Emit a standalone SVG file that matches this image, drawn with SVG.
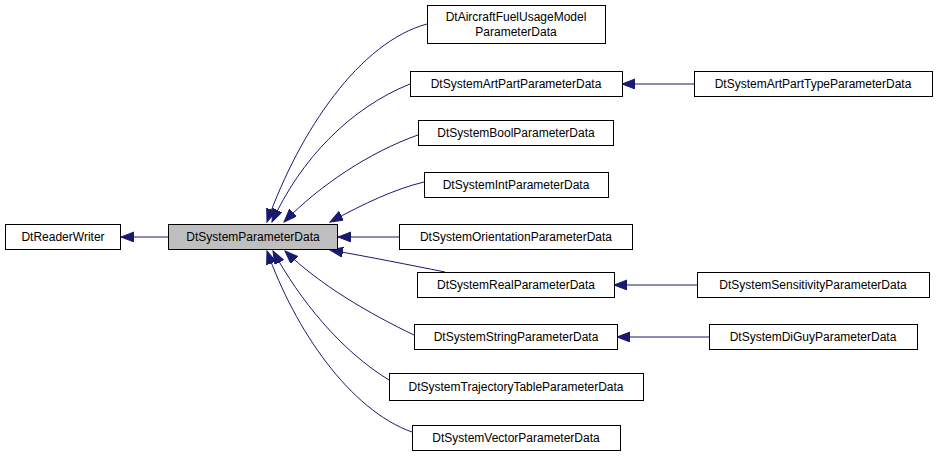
<svg xmlns="http://www.w3.org/2000/svg" width="939" height="457" viewBox="0 0 939 457">
<style>
.n rect{fill:#fff;stroke:#000;stroke-width:1}
.n text{font-family:"Liberation Sans",Arial,sans-serif;font-size:12px;text-anchor:middle;fill:#000}
#edges path{fill:none;stroke:#191970;stroke-width:1;marker-end:url(#a)}
</style>
<defs><marker id="a" markerUnits="userSpaceOnUse" markerWidth="14" markerHeight="12" refX="13" refY="5" orient="auto"><polygon points="0,0 13,5 0,10" fill="#191970" stroke="#191970"/></marker></defs>
<rect width="939" height="457" fill="#fff"/>
<g id="edges">
<path d="M168,237 L121,237"/>
<path d="M427,24 C360,42 300,130 267,222"/>
<path d="M410,84 C350,108 300,160 272,222"/>
<path d="M418,135 C370,152 320,185 284,222"/>
<path d="M424,182 C395,189 365,203 330,222"/>
<path d="M399,237 L338,237"/>
<path d="M445,272 C410,265 370,257 330,250"/>
<path d="M414,335 C370,314 320,285 285,251"/>
<path d="M389,380 C340,350 300,300 273,251"/>
<path d="M412,432 C350,410 295,330 267,251"/>
<path d="M694,84 L622,84"/>
<path d="M697,285 L614,285"/>
<path d="M709,337 L617,337"/>
</g>
<g id="DtReaderWriter" class="n"><rect x="5.5" y="224.5" width="115" height="25"/><text x="63" y="241">DtReaderWriter</text></g>
<g id="DtSystemParameterData" class="n"><rect x="168.5" y="224.5" width="169" height="25" style="fill:#bfbfbf"/><text x="253" y="241">DtSystemParameterData</text></g>
<g id="DtAircraftFuelUsageModelParameterData" class="n"><rect x="427.5" y="5.5" width="178" height="38"/><text x="516" y="21">DtAircraftFuelUsageModel</text><text x="516" y="36">ParameterData</text></g>
<g id="DtSystemArtPartParameterData" class="n"><rect x="410.5" y="71.5" width="212" height="25"/><text x="516" y="88">DtSystemArtPartParameterData</text></g>
<g id="DtSystemArtPartTypeParameterData" class="n"><rect x="694.5" y="71.5" width="238" height="25"/><text x="813" y="88">DtSystemArtPartTypeParameterData</text></g>
<g id="DtSystemBoolParameterData" class="n"><rect x="418.5" y="120.5" width="195" height="25"/><text x="516" y="137">DtSystemBoolParameterData</text></g>
<g id="DtSystemIntParameterData" class="n"><rect x="424.5" y="172.5" width="184" height="25"/><text x="516" y="189">DtSystemIntParameterData</text></g>
<g id="DtSystemOrientationParameterData" class="n"><rect x="399.5" y="224.5" width="233" height="25"/><text x="516" y="241">DtSystemOrientationParameterData</text></g>
<g id="DtSystemRealParameterData" class="n"><rect x="417.5" y="272.5" width="197" height="25"/><text x="516" y="289">DtSystemRealParameterData</text></g>
<g id="DtSystemSensitivityParameterData" class="n"><rect x="697.5" y="272.5" width="232" height="25"/><text x="813" y="289">DtSystemSensitivityParameterData</text></g>
<g id="DtSystemStringParameterData" class="n"><rect x="414.5" y="324.5" width="203" height="25"/><text x="516" y="341">DtSystemStringParameterData</text></g>
<g id="DtSystemDiGuyParameterData" class="n"><rect x="709.5" y="324.5" width="208" height="25"/><text x="813" y="341">DtSystemDiGuyParameterData</text></g>
<g id="DtSystemTrajectoryTableParameterData" class="n"><rect x="389.5" y="373.5" width="254" height="27"/><text x="516" y="391">DtSystemTrajectoryTableParameterData</text></g>
<g id="DtSystemVectorParameterData" class="n"><rect x="412.5" y="425.5" width="208" height="25"/><text x="516" y="442">DtSystemVectorParameterData</text></g>
</svg>
